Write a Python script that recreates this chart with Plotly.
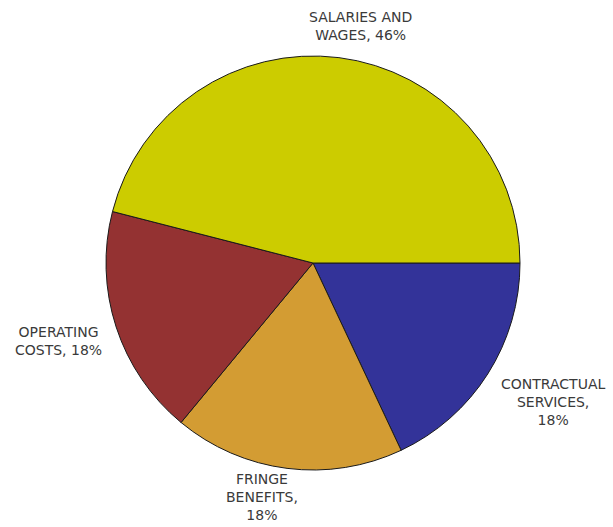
import plotly.graph_objects as go

# Budget breakdown by category (listed clockwise from 3 o'clock)
categories = ["CONTRACTUAL SERVICES", "FRINGE BENEFITS", "OPERATING COSTS", "SALARIES AND WAGES"]
shares = [18, 18, 18, 46]
colors = ["#333399", "#D39C33", "#943232", "#CCCC00"]
label_lines = [
    "CONTRACTUAL<br>SERVICES,<br>{}%",
    "FRINGE<br>BENEFITS,<br>{}%",
    "OPERATING<br>COSTS, {}%",
    "SALARIES AND<br>WAGES, {}%",
]

W, H = 613, 527

fig = go.Figure(
    go.Pie(
        labels=categories,
        values=shares,
        sort=False,
        direction="clockwise",
        rotation=90,
        marker=dict(colors=colors, line=dict(color="#1a1a1a", width=1)),
        textinfo="none",
        hoverinfo="label+percent",
        showlegend=False,
        domain=dict(x=[106 / W, 520 / W], y=[1 - 470 / H, 1 - 56 / H]),
    )
)

# Outside labels placed around the pie (pixel centres converted to paper coords)
label_pos = [(553, 402), (262, 497), (58, 341), (360, 26)]
for tmpl, v, (px, py) in zip(label_lines, shares, label_pos):
    fig.add_annotation(
        text=tmpl.format(v),
        x=px / W,
        y=1 - py / H,
        xref="paper",
        yref="paper",
        xanchor="center",
        yanchor="middle",
        showarrow=False,
        align="center",
        font=dict(family="DejaVu Sans", size=14, color="#3a3a3a"),
    )

fig.update_layout(
    width=W,
    height=H,
    margin=dict(l=0, r=0, t=0, b=0),
    paper_bgcolor="white",
    plot_bgcolor="white",
)

fig.write_html("out.html")
